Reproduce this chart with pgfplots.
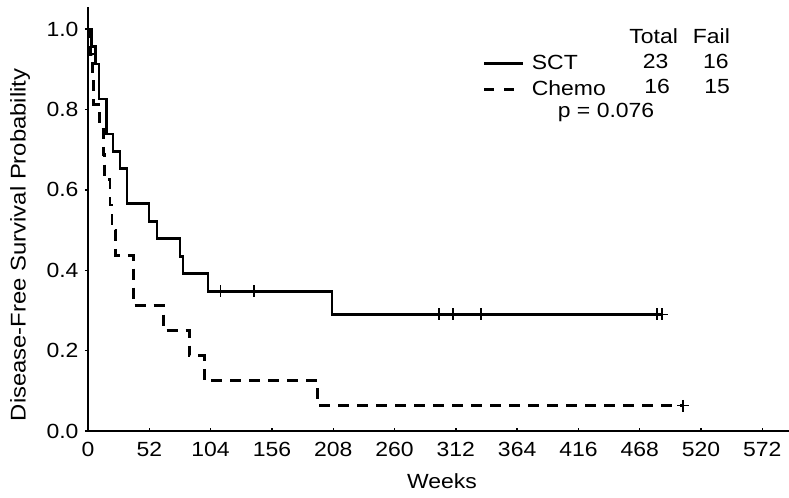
\documentclass[border=0pt]{standalone}
\usepackage{fontspec}
\setmainfont{Liberation Sans}[FakeStretch=1.12]
\usepackage{pgfplots}
\pgfplotsset{compat=1.18}
\newcommand\ff{\fontsize{20.5bp}{24bp}\selectfont}
\begin{document}
\begin{tikzpicture}[font=\ff]
\begin{axis}[
  at={(0,0)}, anchor=origin,
  scale only axis, width=701bp, height=424bp,
  xmin=0, xmax=594.6, ymin=0, ymax=1.055,
  axis lines=left,
  axis line style={-, line width=2.8bp},
  xtick={0,52,...,572},
  ytick={0,0.2,...,1.0},
  yticklabel style={xshift=-6bp, /pgf/number format/fixed,
    /pgf/number format/fixed zerofill, /pgf/number format/precision=1},
  /pgf/number format/assume math mode=true,
  tick align=inside,
  major tick length=3bp,
  tick style={black, line width=1.4bp},
  y tick style={xshift=-3bp},
  tick label style={font=\ff},
  xticklabel style={yshift=-8bp},
  xlabel={Weeks},
  ylabel={Disease-Free Survival Probability},
  xlabel style={at={(axis description cs:0.505,0)}, anchor=north, yshift=-42bp, inner sep=0pt, font=\ff},
  ylabel style={at={([xshift=-68bp]axis description cs:0,0.439)}, anchor=center, inner sep=0pt,
    font=\fontsize{21.3bp}{25bp}\selectfont},
  legend style={draw=none, fill=none, at={(axis cs:335.1,0.935)}, anchor=north west,
    inner sep=0pt, outer sep=0pt, row sep=10bp, column sep=7bp, nodes={inner sep=0pt}, font=\ff},
  legend cell align=left,
  legend image code/.code={\draw[#1] (0bp,0bp) -- (39bp,0bp);},
]
% SCT (n = 23)
\addplot[const plot, black, line width=2.8bp, forget plot] coordinates {
  (0,1) (3,0.9565) (6.5,0.9130) (9.3,0.8261) (16,0.7391) (21.2,0.6957)
  (27.1,0.6522) (33.1,0.5652) (51.7,0.5217) (58.5,0.4783) (78,0.4348)
  (80.6,0.3913) (101.8,0.3478) (207,0.2899) (486.9,0.2899)
};
\addplot[only marks, black, mark=+, mark size=6bp, mark options={solid, line width=1.2bp}, forget plot] coordinates {
  (112.5,0.3478) (140.8,0.3478) (297.7,0.2899) (309.6,0.2899) (333.4,0.2899)
  (482.7,0.2899) (486.9,0.2899)
};
% Chemo (n = 16)
\addplot[const plot, black, line width=2.8bp, dash pattern=on 11bp off 8bp, forget plot] coordinates {
  (0,1) (2,0.9375) (4,0.875) (5,0.8125) (10,0.75) (13,0.6875) (14,0.625)
  (18.7,0.5625) (20.3,0.5) (23,0.4375) (38.5,0.3125) (64,0.25) (86,0.1875)
  (98.5,0.125) (195,0.0625) (504.7,0.0625)
};
\addplot[only marks, black, mark=+, mark size=6bp, mark options={solid, line width=1.2bp}, forget plot] coordinates {
  (504.7,0.0625)
};
\addlegendimage{black, line width=2.8bp}
\addlegendentry{SCT}
\addlegendimage{black, line width=2.8bp, dash pattern=on 10bp off 10bp}
\addlegendentry{Chemo}
\node[anchor=base east, inner sep=0pt] at (axis cs:500.5,0.965) {Total};
\node[anchor=base east, inner sep=0pt] at (axis cs:544.6,0.965) {Fail};
\node[anchor=base east, inner sep=0pt] at (axis cs:492.5,0.903) {23};
\node[anchor=base east, inner sep=0pt] at (axis cs:543.5,0.903) {16};
\node[anchor=base east, inner sep=0pt] at (axis cs:493.7,0.841) {16};
\node[anchor=base east, inner sep=0pt] at (axis cs:544.6,0.841) {15};
\node[anchor=base, inner sep=0pt] at (axis cs:439.4,0.779) {p = 0.076};
\end{axis}
\pgfresetboundingbox
\path[use as bounding box] (-88bp,-67bp) rectangle (701bp,431bp);
\end{tikzpicture}
\end{document}
